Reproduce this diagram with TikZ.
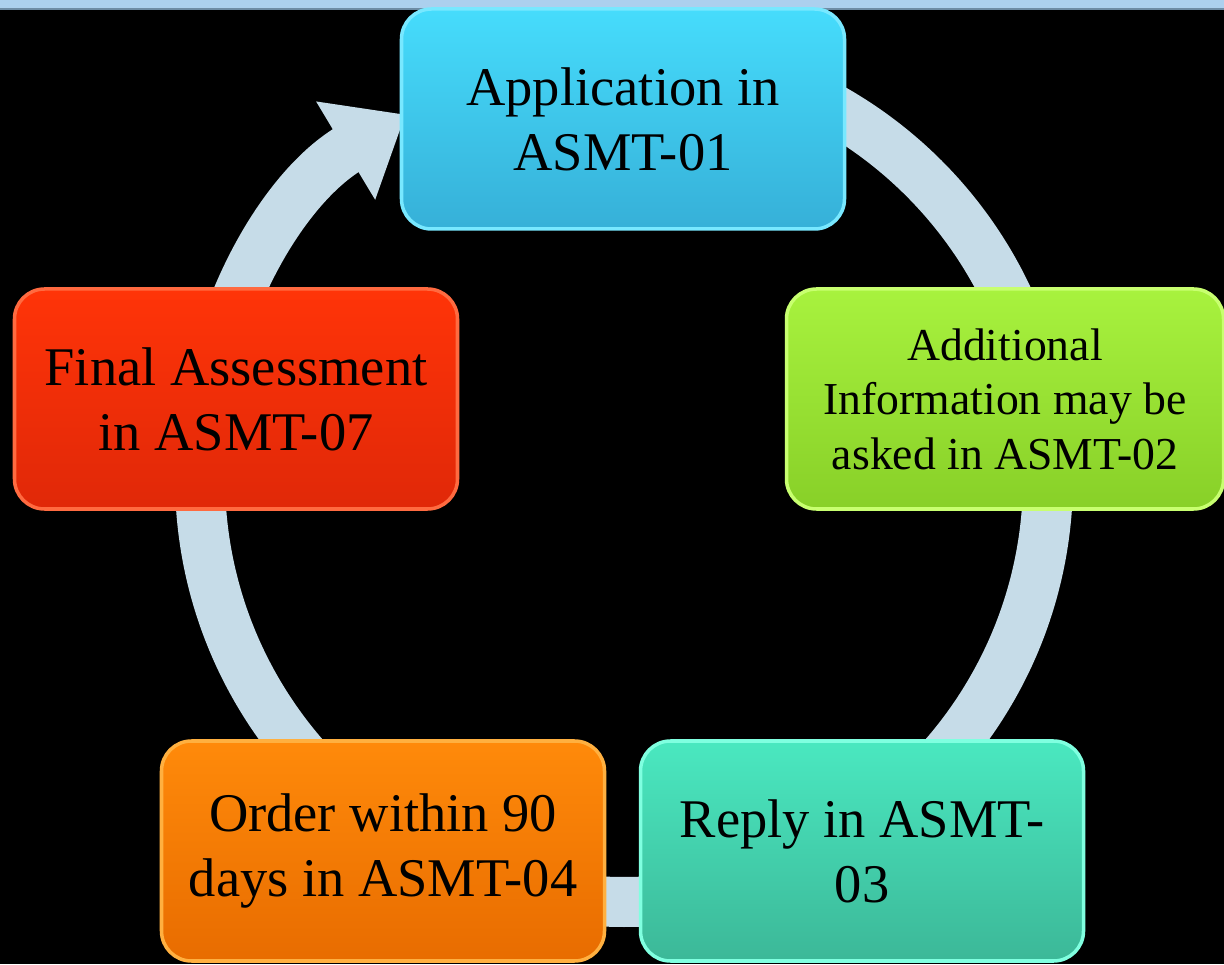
\documentclass[tikz,border=0pt]{standalone}
\usepackage{fontspec}
\setmainfont{Liberation Serif}
\usetikzlibrary{arrows.meta}

\definecolor{ringblue}{RGB}{198,220,232}
\definecolor{stripblue}{RGB}{172,208,238}
\definecolor{stripedge}{RGB}{110,140,165}
\definecolor{appTop}{RGB}{70,220,252}
\definecolor{appBot}{RGB}{54,176,216}
\definecolor{appRim}{RGB}{120,232,255}
\definecolor{infoTop}{RGB}{168,242,62}
\definecolor{infoBot}{RGB}{136,208,40}
\definecolor{infoRim}{RGB}{200,255,112}
\definecolor{replyTop}{RGB}{74,232,192}
\definecolor{replyBot}{RGB}{60,184,152}
\definecolor{replyRim}{RGB}{128,255,224}
\definecolor{orderTop}{RGB}{255,138,10}
\definecolor{orderBot}{RGB}{232,108,0}
\definecolor{orderRim}{RGB}{255,176,64}
\definecolor{finalTop}{RGB}{255,52,8}
\definecolor{finalBot}{RGB}{224,40,8}
\definecolor{finalRim}{RGB}{255,106,64}

\begin{document}
\begin{tikzpicture}[
        stage/.style={
            rectangle,
            rounded corners=6mm,
            line width=2pt,
            minimum width=8.86cm,
            minimum height=4.4cm,
            align=center,
            text=black,
            font=\fontsize{31}{37}\selectfont
        },
        ring/.style={
            line width=1cm,
            draw=ringblue,
            -{Triangle[width=2.2cm, length=1.4cm]}
        }
    ]

    % --- Background ---
    \useasboundingbox (0,0) rectangle (24.48,19.28);
    \fill[black] (0,0) rectangle (24.48,19.28);
    \fill[stripblue] (0,19.1) rectangle (24.48,19.28);
    \draw[stripedge, line width=1pt] (0,19.1) -- (24.48,19.1);

    % --- Cycle ring ---
    \coordinate (hub) at (12.48,9.72);
    \draw[ring] (hub) ++(90:8.48) arc[start angle=90, end angle=-239, radius=8.48];

    % --- Stages ---
    \node[stage, top color=appTop, bottom color=appBot, draw=appRim] (app) at (12.46,16.9) {Application in\\ASMT-01};
    \node[stage, top color=infoTop, bottom color=infoBot, draw=infoRim, minimum width=8.74cm,
        font=\fontsize{26}{31}\selectfont] (info) at (20.1,11.3) {Additional\\Information may be\\asked in ASMT-02};
    \node[stage, top color=replyTop, bottom color=replyBot, draw=replyRim] (reply) at (17.24,2.26) {Reply in ASMT-\\03};
    \node[stage, top color=orderTop, bottom color=orderBot, draw=orderRim] (order) at (7.66,2.26) {Order within 90\\days in ASMT-04};
    \node[stage, top color=finalTop, bottom color=finalBot, draw=finalRim] (final) at (4.72,11.3) {Final Assessment\\in ASMT-07};

\end{tikzpicture}
\end{document}
